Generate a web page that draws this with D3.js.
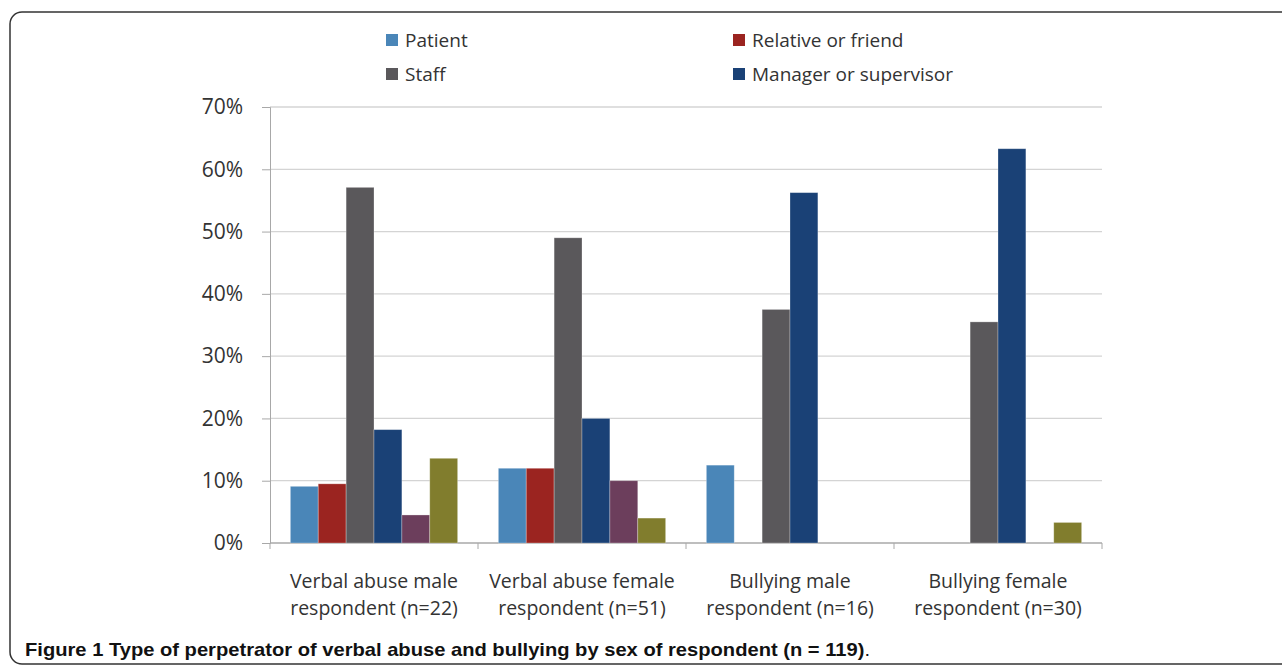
<!DOCTYPE html>
<html>
<head>
<meta charset="utf-8">
<script src="https://cdn.jsdelivr.net/npm/d3@7"></script>
<style>
  body { margin: 0; background: #fff; }
  svg text { font-family: "Open Sans", "DejaVu Sans", sans-serif; }
</style>
</head>
<body>
<div id="chart-container"></div>
<script>
// data
const categories = [
  ["Verbal abuse male", "respondent (n=22)"],
  ["Verbal abuse female", "respondent (n=51)"],
  ["Bullying male", "respondent (n=16)"],
  ["Bullying female", "respondent (n=30)"]
];
const seriesNames = ["Patient", "Relative or friend", "Staff", "Manager or supervisor", "Other 1", "Other 2"];
const legendNames = ["Patient", "Relative or friend", "Staff", "Manager or supervisor"];
const patient    = [9.1, 12.0, 12.5, 0];
const relative   = [9.5, 12.0, 0, 0];
const staff      = [57.1, 49.0, 37.5, 35.5];
const manager    = [18.2, 20.0, 56.25, 63.3];
const other1     = [4.5, 10.0, 0, 0];
const other2     = [13.6, 4.0, 0, 3.3];
const yTicks = [0, 10, 20, 30, 40, 50, 60, 70];
const caption = "Figure 1 Type of perpetrator of verbal abuse and bullying by sex of respondent (n = 119)";

const colors = ["#4a86b8", "#9b2420", "#5a585b", "#1a4176", "#6c3e5c", "#817d2d"];
const seriesValues = [patient, relative, staff, manager, other1, other2];

const W = 1282, H = 667;
const plot = {left: 270, right: 1102, top: 107, bottom: 543};

const svg = d3.select("#chart-container").append("svg")
  .attr("width", W).attr("height", H);

// frame round the figure
svg.append("rect")
  .attr("x", 10).attr("y", 12)
  .attr("width", 1320).attr("height", 652)
  .attr("rx", 12)
  .attr("fill", "none")
  .attr("stroke", "#333")
  .attr("stroke-width", 1.5);

const x0 = d3.scaleBand().domain(d3.range(categories.length)).range([plot.left, plot.right]).paddingInner(0).paddingOuter(0);
const x1 = d3.scaleBand().domain(d3.range(seriesNames.length)).range([0, x0.bandwidth()]).paddingOuter(0.73).paddingInner(0);
const y = d3.scaleLinear().domain([0, 70]).range([plot.bottom, plot.top]);

// gridlines
svg.append("g").selectAll("line")
  .data(yTicks.filter(t => t > 0))
  .enter().append("line")
  .attr("x1", plot.left).attr("x2", plot.right)
  .attr("y1", d => y(d)).attr("y2", d => y(d))
  .attr("stroke", "#d4d4d4").attr("stroke-width", 1.3);

// y axis
const yAxis = svg.append("g")
  .attr("transform", `translate(${plot.left},0)`)
  .call(d3.axisLeft(y).tickValues(yTicks).tickSize(8).tickPadding(19).tickFormat(d => d + "%"));
yAxis.select(".domain").attr("stroke", "#a8a8a8");
yAxis.selectAll(".tick line").attr("stroke", "#a8a8a8");
yAxis.selectAll("text").attr("font-size", 21).attr("fill", "#333");

// x axis baseline and category ticks
svg.append("line")
  .attr("x1", plot.left).attr("x2", plot.right)
  .attr("y1", plot.bottom).attr("y2", plot.bottom)
  .attr("stroke", "#a8a8a8").attr("stroke-width", 1.3);
svg.append("g").selectAll("line")
  .data(d3.range(categories.length + 1))
  .enter().append("line")
  .attr("x1", d => plot.left + d * x0.step()).attr("x2", d => plot.left + d * x0.step())
  .attr("y1", plot.bottom).attr("y2", plot.bottom + 6)
  .attr("stroke", "#a8a8a8");

// bars
const groups = svg.append("g").selectAll("g")
  .data(categories.map((c, i) => i))
  .enter().append("g")
  .attr("transform", d => `translate(${x0(d)},0)`);

groups.selectAll("rect")
  .data(ci => seriesValues.map((vals, si) => ({si: si, v: vals[ci]})).filter(d => d.v > 0))
  .enter().append("rect")
  .attr("x", d => x1(d.si))
  .attr("width", x1.bandwidth())
  .attr("y", d => y(d.v))
  .attr("height", d => plot.bottom - y(d.v))
  .attr("fill", d => colors[d.si])
  .attr("stroke", "rgba(255,255,255,0.35)")
  .attr("stroke-width", 0.8);

// category labels
const catLabels = svg.append("g").selectAll("text")
  .data(categories)
  .enter().append("text")
  .attr("text-anchor", "middle")
  .attr("font-size", 19.5)
  .attr("fill", "#333")
  .attr("x", (d, i) => x0(i) + x0.bandwidth() / 2)
  .attr("y", 588);
catLabels.selectAll("tspan")
  .data(d => d)
  .enter().append("tspan")
  .attr("x", function() { return d3.select(this.parentNode).attr("x"); })
  .attr("dy", (d, i) => i === 0 ? 0 : 27)
  .text(d => d);

// legend
const legendPos = [[386, 40], [733, 40], [386, 74], [733, 74]];
const legend = svg.append("g").selectAll("g")
  .data(legendNames)
  .enter().append("g")
  .attr("transform", (d, i) => `translate(${legendPos[i][0]},${legendPos[i][1]})`);
legend.append("rect")
  .attr("x", 0).attr("y", -6).attr("width", 12).attr("height", 12)
  .attr("fill", (d, i) => colors[i]);
legend.append("text")
  .attr("x", 19).attr("y", 7)
  .attr("font-size", 19)
  .attr("fill", "#333")
  .text(d => d);

// caption (condensed face in the original, so squeeze to its width)
const cap = svg.append("text")
  .attr("x", 25).attr("y", 656)
  .attr("font-size", 19)
  .attr("textLength", 845)
  .attr("lengthAdjust", "spacingAndGlyphs")
  .style("font-family", "'Liberation Sans', Arial, sans-serif")
  .attr("fill", "#111");
cap.append("tspan").attr("font-weight", "bold").text(caption);
cap.append("tspan").text(".");
</script>
</body>
</html>
